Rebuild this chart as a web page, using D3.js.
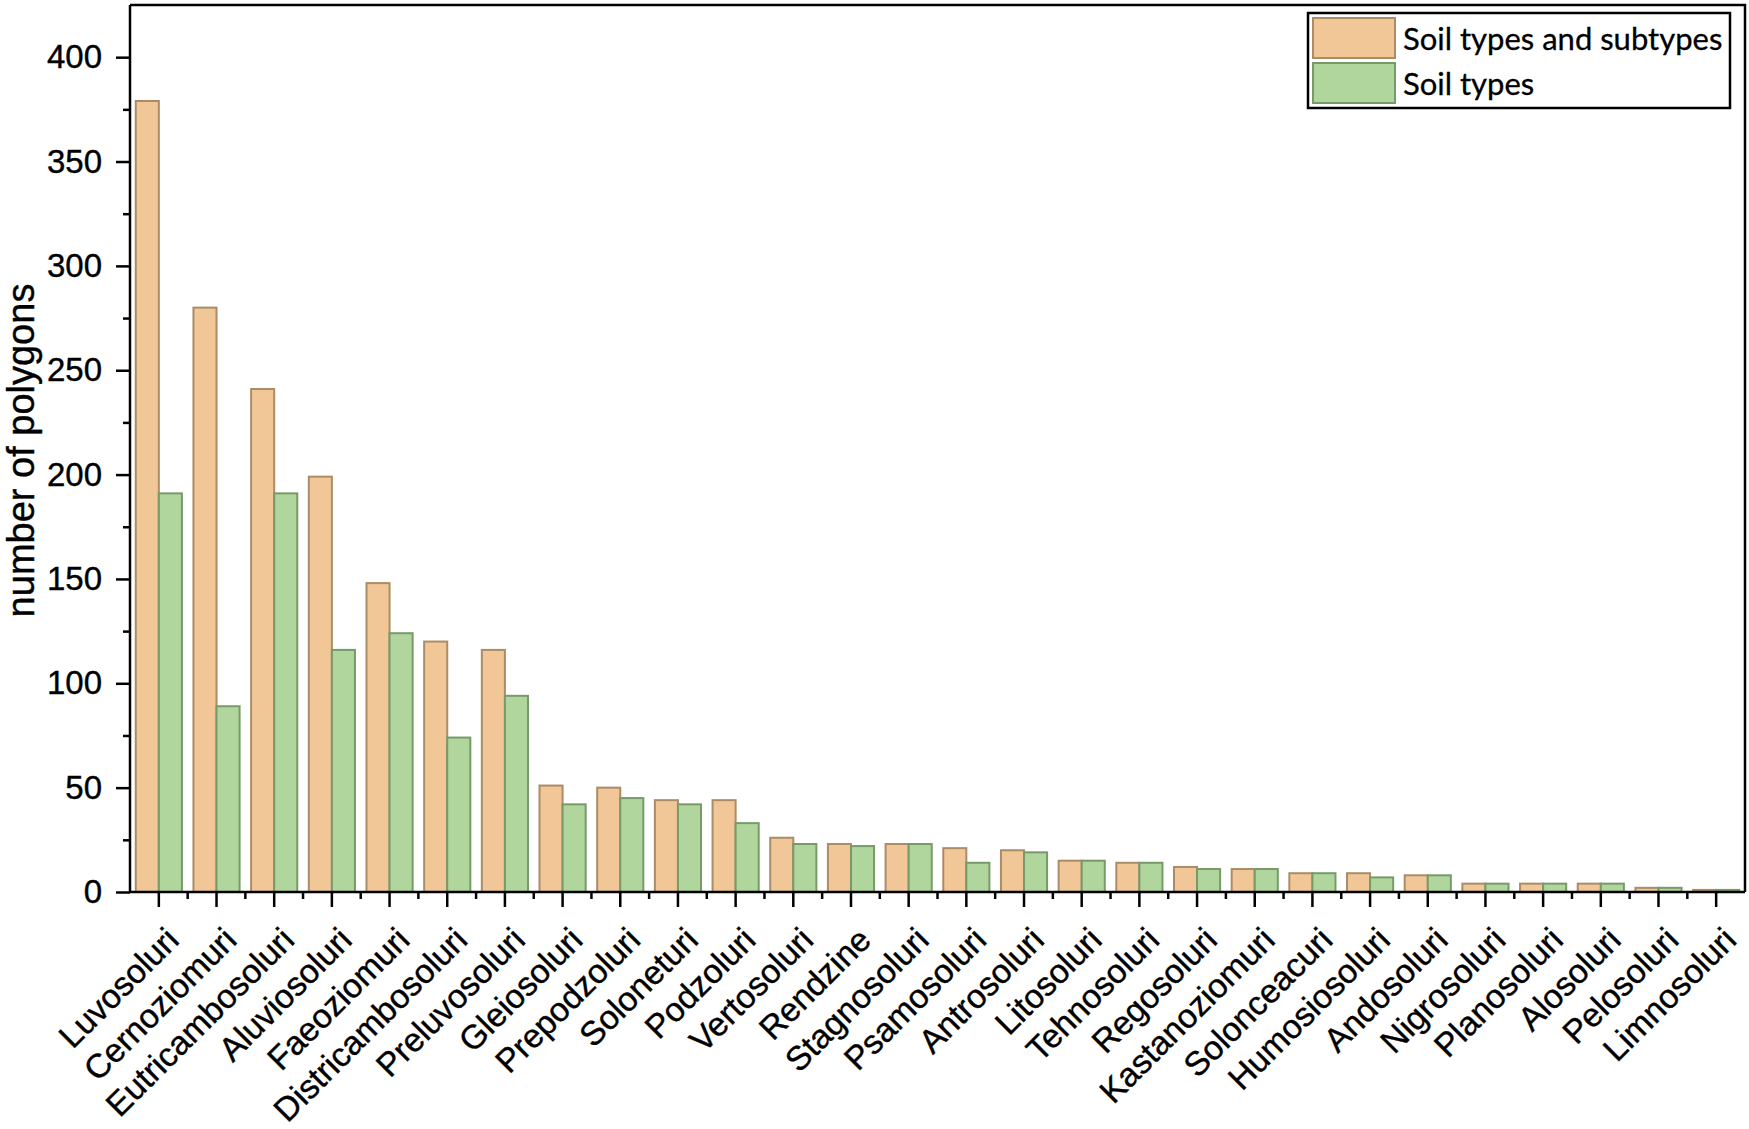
<!DOCTYPE html>
<html>
<head>
<meta charset="utf-8">
<script src="https://cdnjs.cloudflare.com/ajax/libs/d3/7.8.5/d3.min.js"></script>
<style>
  body { margin: 0; background: #fff; }
  svg { display: block; }
</style>
</head>
<body>
<svg width="1749" height="1129"></svg>
<script>
const categories = ["Luvosoluri", "Cernoziomuri", "Eutricambosoluri", "Aluviosoluri", "Faeoziomuri",
    "Districambosoluri", "Preluvosoluri", "Gleiosoluri", "Prepodzoluri", "Soloneturi", "Podzoluri",
    "Vertosoluri", "Rendzine", "Stagnosoluri", "Psamosoluri", "Antrosoluri", "Litosoluri", "Tehnosoluri",
    "Regosoluri", "Kastanoziomuri", "Solonceacuri", "Humosiosoluri", "Andosoluri", "Nigrosoluri",
    "Planosoluri", "Alosoluri", "Pelosoluri", "Limnosoluri"];
const typesAndSubtypes = [379, 280, 241, 199, 148, 120, 116, 51, 50, 44, 44, 26, 23, 23, 21, 20, 15, 14, 12, 11, 9, 9, 8, 4, 4, 4, 2, 1];
const typesOnly = [191, 89, 191, 116, 124, 74, 94, 42, 45, 42, 33, 23, 22, 23, 14, 19, 15, 14, 11, 11, 9, 7, 8, 4, 4, 4, 2, 1];
const seriesNames = ["Soil types and subtypes", "Soil types"];
const yTicks = [0, 50, 100, 150, 200, 250, 300, 350, 400];
const yMinorTicks = [25, 75, 125, 175, 225, 275, 325, 375];

const fills = ["#f1c797", "#b0d69e"];
const strokes = ["#ab8c66", "#779a69"];
const axisFont = "'Liberation Sans', Arial, sans-serif";

const plotLeft = 130, plotRight = 1745, plotTop = 5, plotBottom = 892;

const $svg = d3.select("svg");

const x = d3.scaleBand()
    .domain(categories)
    .range([plotLeft, plotRight])
    .paddingInner(0)
    .paddingOuter(0);
const inner = d3.scaleBand()
    .domain([0, 1])
    .range([0, x.bandwidth()])
    .paddingInner(0)
    .paddingOuter(0.25);
const y = d3.scaleLinear()
    .domain([0, 425])
    .range([plotBottom, plotTop]);

const rows = categories.map((c, i) => ({ c, v: [typesAndSubtypes[i], typesOnly[i]] }));

// bars
const $groups = $svg.append("g")
    .selectAll("g")
    .data(rows)
    .join("g")
    .attr("transform", d => `translate(${x(d.c)},0)`);
$groups.selectAll("rect")
    .data(d => d.v.map((v, s) => ({ v, s })))
    .join("rect")
    .attr("x", d => inner(d.s))
    .attr("y", d => y(d.v))
    .attr("width", inner.bandwidth())
    .attr("height", d => y(0) - y(d.v))
    .attr("fill", d => fills[d.s])
    .attr("stroke", d => strokes[d.s])
    .attr("stroke-width", 2);

// frame
$svg.append("path")
    .attr("d", `M${plotLeft},${plotTop}H${plotRight}V${plotBottom}`)
    .attr("fill", "none")
    .attr("stroke", "#000")
    .attr("stroke-width", 2.5);

// y axis
const $yAxis = $svg.append("g")
    .attr("transform", `translate(${plotLeft},0)`)
    .call(d3.axisLeft(y).tickValues(yTicks).tickSize(14).tickPadding(14).tickSizeOuter(0));
$svg.append("g")
    .attr("transform", `translate(${plotLeft},0)`)
    .call(d3.axisLeft(y).tickValues(yMinorTicks).tickSize(7).tickFormat("").tickSizeOuter(0))
    .select(".domain").remove();
$yAxis.select(".domain").attr("stroke-width", 2.5).attr("d", `M0,${plotTop}V${plotBottom}`);
$yAxis.selectAll(".tick text")
    .attr("font-family", axisFont)
    .attr("font-size", 33)
    .attr("fill", "#000")
    .attr("stroke", "#000")
    .attr("stroke-width", 0.4);

// x axis
const $xAxis = $svg.append("g")
    .attr("transform", `translate(0,${plotBottom})`)
    .call(d3.axisBottom(x).tickSize(15).tickPadding(0).tickSizeOuter(0));
$xAxis.select(".domain").attr("stroke-width", 2.5).attr("d", `M${plotLeft},0H${plotRight}`);
$xAxis.selectAll(".tick text")
    .attr("font-family", axisFont)
    .attr("font-size", 33.5)
    .attr("fill", "#000")
    .attr("stroke", "#000")
    .attr("stroke-width", 0.4)
    .attr("text-anchor", "end")
    .attr("dy", null)
    .attr("y", null)
    .attr("transform", "translate(22,50) rotate(-45)");
// minor x ticks at band edges
$svg.append("g")
    .attr("transform", `translate(0,${plotBottom})`)
    .selectAll("line")
    .data(categories.slice(1))
    .join("line")
    .attr("x1", d => x(d))
    .attr("x2", d => x(d))
    .attr("y1", 0)
    .attr("y2", 7)
    .attr("stroke", "#000")
    .attr("stroke-width", 2.5);

$svg.selectAll(".tick line").attr("stroke-width", 2.5);

// y title
$svg.append("text")
    .attr("transform", `translate(34,${(plotTop + plotBottom) / 2 + 2}) rotate(-90)`)
    .attr("text-anchor", "middle")
    .attr("font-family", axisFont)
    .attr("font-size", 38)
    .attr("stroke", "#000")
    .attr("stroke-width", 0.4)
    .text("number of polygons");

// legend
const $legend = $svg.append("g");
$legend.append("rect")
    .attr("x", 1308).attr("y", 13)
    .attr("width", 422).attr("height", 95)
    .attr("fill", "#fff")
    .attr("stroke", "#000")
    .attr("stroke-width", 2.5);
const $items = $legend.selectAll("g.item")
    .data(seriesNames)
    .join("g")
    .attr("class", "item")
    .attr("transform", (d, i) => `translate(1313,${18 + i * 45})`);
$items.append("rect")
    .attr("width", 82).attr("height", 40)
    .attr("fill", (d, i) => fills[i])
    .attr("stroke", (d, i) => strokes[i])
    .attr("stroke-width", 2);
$items.append("text")
    .attr("x", 90).attr("y", 32)
    .attr("font-family", "Lato, 'Open Sans', sans-serif")
    .attr("font-size", 31)
    .attr("stroke", "#000")
    .attr("stroke-width", 0.3)
    .text(d => d);
</script>
</body>
</html>
